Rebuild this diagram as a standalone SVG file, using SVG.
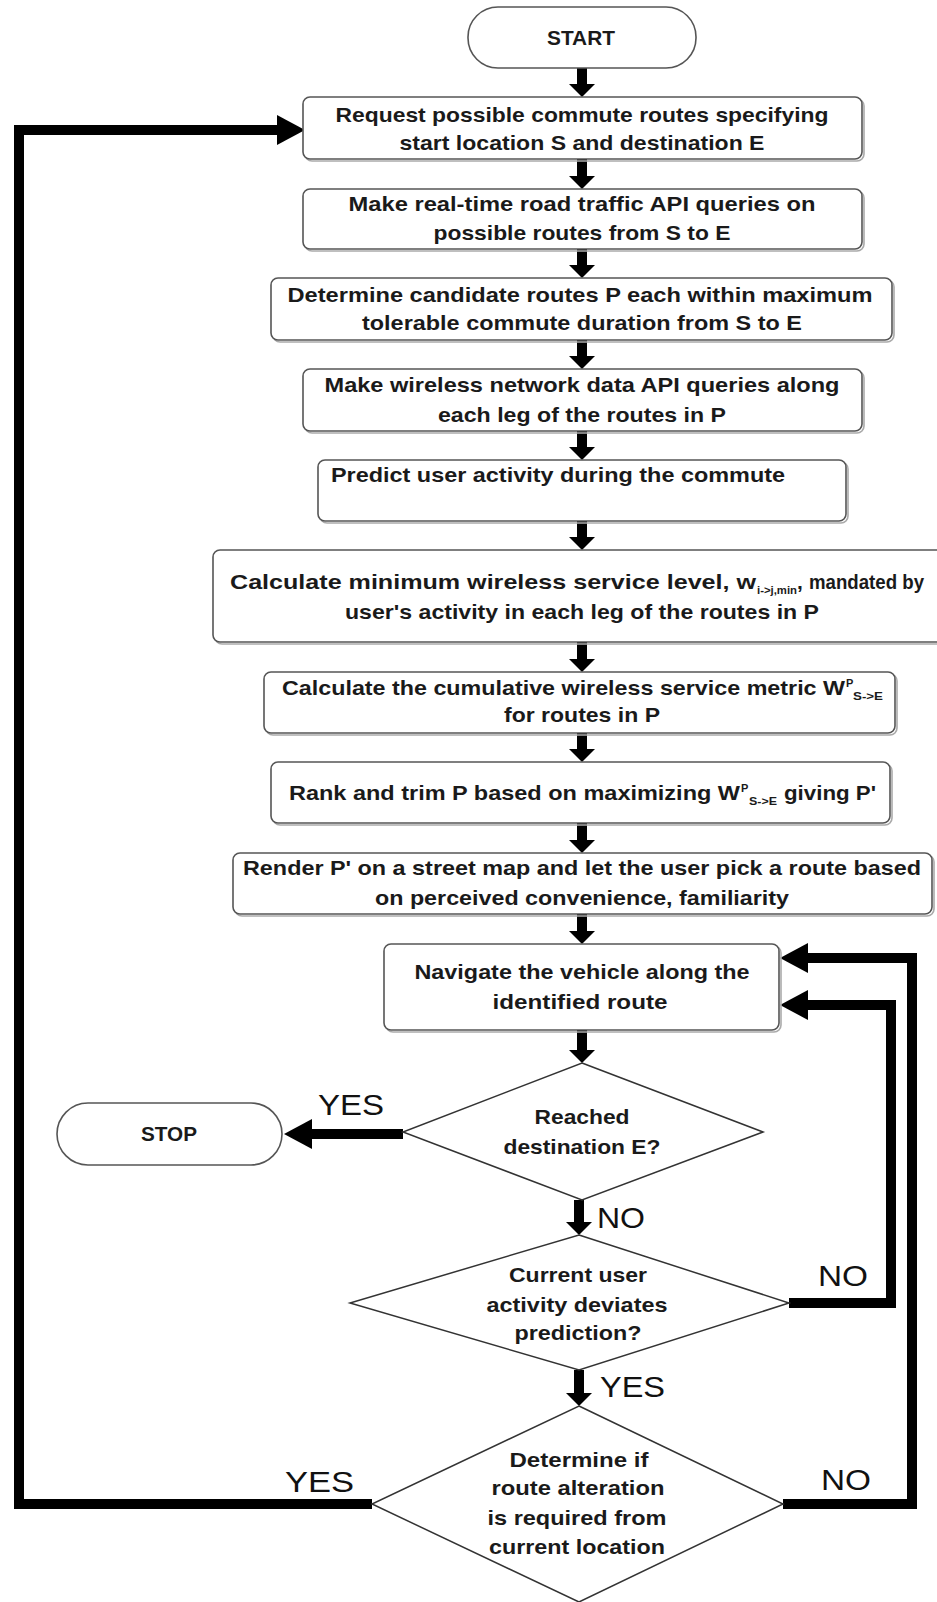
<svg xmlns="http://www.w3.org/2000/svg" width="937" height="1602" viewBox="0 0 937 1602">
<style>
.bx{fill:#fff;stroke:#555;stroke-width:1.6}
.sh{fill:none;stroke:#aaa;stroke-width:1.6}
.dm{fill:#fff;stroke:#333;stroke-width:1.5}
.t{font-family:"Liberation Sans",Arial,sans-serif;font-weight:bold;font-size:21px;fill:#1a1a1a}
.c{text-anchor:middle}
.s{font-size:11px}
.lb{font-family:"Liberation Sans",Arial,sans-serif;font-size:30px;fill:#111}
.ar{fill:none;stroke:#000;stroke-width:10}
.lp{fill:none;stroke:#000;stroke-width:10;stroke-linejoin:miter}
</style>
<defs>
<marker id="ah" markerUnits="userSpaceOnUse" markerWidth="14" markerHeight="26" refX="0" refY="13" orient="auto"><path d="M0,0 L13,13 L0,26 z" fill="#000"/></marker>
<marker id="ahL" markerUnits="userSpaceOnUse" markerWidth="29" markerHeight="30" refX="0" refY="15" orient="auto"><path d="M0,0 L28,15 L0,30 z" fill="#000"/></marker>
</defs>

<g id="connectors">
<line class="ar" x1="582" y1="68" x2="582" y2="84" marker-end="url(#ah)"/>
<line class="ar" x1="582" y1="159" x2="582" y2="176" marker-end="url(#ah)"/>
<line class="ar" x1="582" y1="249" x2="582" y2="265" marker-end="url(#ah)"/>
<line class="ar" x1="582" y1="340" x2="582" y2="356" marker-end="url(#ah)"/>
<line class="ar" x1="582" y1="431" x2="582" y2="447" marker-end="url(#ah)"/>
<line class="ar" x1="582" y1="521" x2="582" y2="537" marker-end="url(#ah)"/>
<line class="ar" x1="582" y1="642" x2="582" y2="659" marker-end="url(#ah)"/>
<line class="ar" x1="582" y1="733" x2="582" y2="749" marker-end="url(#ah)"/>
<line class="ar" x1="582" y1="823" x2="582" y2="840" marker-end="url(#ah)"/>
<line class="ar" x1="582" y1="914" x2="582" y2="931" marker-end="url(#ah)"/>
<line class="ar" x1="582" y1="1030" x2="582" y2="1050" marker-end="url(#ah)"/>
<line class="ar" x1="579" y1="1200" x2="579" y2="1222" marker-end="url(#ah)"/>
<line class="ar" x1="579" y1="1370" x2="579" y2="1393" marker-end="url(#ah)"/>
<path class="lp" d="M403,1134 L312,1134" marker-end="url(#ahL)"/>
<path class="lp" d="M372,1504 L19,1504 L19,130 L277,130" marker-end="url(#ahL)"/>
<path class="lp" d="M789,1303 L891,1303 L891,1005 L808,1005" marker-end="url(#ahL)"/>
<path class="lp" d="M783,1504 L912,1504 L912,958 L808,958" marker-end="url(#ahL)"/>
</g>

<g id="labels">
<text class="lb" x="318" y="1115" textLength="66" lengthAdjust="spacingAndGlyphs">YES</text>
<text class="lb" x="597" y="1228" textLength="48" lengthAdjust="spacingAndGlyphs">NO</text>
<text class="lb" x="818" y="1286" textLength="50" lengthAdjust="spacingAndGlyphs">NO</text>
<text class="lb" x="600" y="1397" textLength="65" lengthAdjust="spacingAndGlyphs">YES</text>
<text class="lb" x="285" y="1492" textLength="69" lengthAdjust="spacingAndGlyphs">YES</text>
<text class="lb" x="821" y="1490" textLength="50" lengthAdjust="spacingAndGlyphs">NO</text>
</g>

<g id="start">
<rect class="bx" x="468" y="7" width="228" height="61" rx="30"/>
<text class="t c" x="581" y="45" textLength="68" lengthAdjust="spacingAndGlyphs">START</text>
</g>

<g id="box1">
<rect class="sh" x="305" y="99" width="559" height="62" rx="7"/>
<rect class="bx" x="303" y="97" width="559" height="62" rx="7"/>
<text class="t c" x="582" y="122" textLength="493" lengthAdjust="spacingAndGlyphs">Request possible commute routes specifying</text>
<text class="t c" x="582" y="150" textLength="365" lengthAdjust="spacingAndGlyphs">start location S and destination E</text>
</g>

<g id="box2">
<rect class="sh" x="305" y="191" width="559" height="60" rx="7"/>
<rect class="bx" x="303" y="189" width="559" height="60" rx="7"/>
<text class="t c" x="582" y="211" textLength="467" lengthAdjust="spacingAndGlyphs">Make real-time road traffic API queries on</text>
<text class="t c" x="582" y="240" textLength="297" lengthAdjust="spacingAndGlyphs">possible routes from S to E</text>
</g>

<g id="box3">
<rect class="sh" x="273" y="280" width="621" height="62" rx="7"/>
<rect class="bx" x="271" y="278" width="621" height="62" rx="7"/>
<text class="t c" x="580" y="302" textLength="585" lengthAdjust="spacingAndGlyphs">Determine candidate routes P each within maximum</text>
<text class="t c" x="582" y="330" textLength="440" lengthAdjust="spacingAndGlyphs">tolerable commute duration from S to E</text>
</g>

<g id="box4">
<rect class="sh" x="305" y="371" width="559" height="62" rx="7"/>
<rect class="bx" x="303" y="369" width="559" height="62" rx="7"/>
<text class="t c" x="582" y="392" textLength="515" lengthAdjust="spacingAndGlyphs">Make wireless network data API queries along</text>
<text class="t c" x="582" y="422" textLength="288" lengthAdjust="spacingAndGlyphs">each leg of the routes in P</text>
</g>

<g id="box5">
<rect class="sh" x="320" y="462" width="528" height="61" rx="7"/>
<rect class="bx" x="318" y="460" width="528" height="61" rx="7"/>
<text class="t" x="331" y="482" textLength="454" lengthAdjust="spacingAndGlyphs">Predict user activity during the commute</text>
</g>

<g id="box6">
<rect class="sh" x="215" y="552" width="740" height="92" rx="7"/>
<rect class="bx" x="213" y="550" width="740" height="92" rx="7"/>
<text class="t"><tspan x="230" y="589" textLength="526" lengthAdjust="spacingAndGlyphs">Calculate minimum wireless service level, w</tspan><tspan class="s" x="757" y="594" textLength="40" lengthAdjust="spacingAndGlyphs">i-&gt;j,min</tspan><tspan x="797" y="589">,</tspan><tspan x="809" y="589" textLength="115" lengthAdjust="spacingAndGlyphs">mandated by</tspan></text>
<text class="t c" x="582" y="619" textLength="474" lengthAdjust="spacingAndGlyphs">user's activity in each leg of the routes in P</text>
</g>

<g id="box7">
<rect class="sh" x="266" y="674" width="631" height="61" rx="7"/>
<rect class="bx" x="264" y="672" width="631" height="61" rx="7"/>
<text class="t"><tspan x="282" y="695" textLength="563" lengthAdjust="spacingAndGlyphs">Calculate the cumulative wireless service metric W</tspan><tspan class="s" x="846" y="687">P</tspan><tspan class="s" x="853" y="700" textLength="30" lengthAdjust="spacingAndGlyphs">S-&gt;E</tspan></text>
<text class="t c" x="582" y="722" textLength="156" lengthAdjust="spacingAndGlyphs">for routes in P</text>
</g>

<g id="box8">
<rect class="sh" x="273" y="764" width="619" height="61" rx="7"/>
<rect class="bx" x="271" y="762" width="619" height="61" rx="7"/>
<text class="t"><tspan x="289" y="800" textLength="451" lengthAdjust="spacingAndGlyphs">Rank and trim P based on maximizing W</tspan><tspan class="s" x="741" y="792">P</tspan><tspan class="s" x="749" y="805" textLength="28" lengthAdjust="spacingAndGlyphs">S-&gt;E</tspan><tspan x="784" y="800" textLength="92" lengthAdjust="spacingAndGlyphs">giving P'</tspan></text>
</g>

<g id="box9">
<rect class="sh" x="235" y="855" width="699" height="61" rx="7"/>
<rect class="bx" x="233" y="853" width="699" height="61" rx="7"/>
<text class="t c" x="582" y="875" textLength="678" lengthAdjust="spacingAndGlyphs">Render P' on a street map and let the user pick a route based</text>
<text class="t c" x="582" y="905" textLength="414" lengthAdjust="spacingAndGlyphs">on perceived convenience, familiarity</text>
</g>

<g id="box10">
<rect class="sh" x="386" y="946" width="395" height="86" rx="7"/>
<rect class="bx" x="384" y="944" width="395" height="86" rx="7"/>
<text class="t c" x="582" y="979" textLength="335" lengthAdjust="spacingAndGlyphs">Navigate the vehicle along the</text>
<text class="t c" x="580" y="1009" textLength="175" lengthAdjust="spacingAndGlyphs">identified route</text>
</g>

<g id="decision1">
<polygon class="dm" points="582,1063 763,1132 582,1200 403,1132"/>
<text class="t c" x="582" y="1124" textLength="95" lengthAdjust="spacingAndGlyphs">Reached</text>
<text class="t c" x="582" y="1154" textLength="157" lengthAdjust="spacingAndGlyphs">destination E?</text>
</g>

<g id="stop">
<rect class="bx" x="57" y="1103" width="225" height="62" rx="31"/>
<text class="t c" x="169" y="1141" textLength="56" lengthAdjust="spacingAndGlyphs">STOP</text>
</g>

<g id="decision2">
<polygon class="dm" points="579,1235 789,1303 579,1370 350,1303"/>
<text class="t c" x="578" y="1282" textLength="138" lengthAdjust="spacingAndGlyphs">Current user</text>
<text class="t c" x="577" y="1312" textLength="181" lengthAdjust="spacingAndGlyphs">activity deviates</text>
<text class="t c" x="578" y="1340" textLength="127" lengthAdjust="spacingAndGlyphs">prediction?</text>
</g>

<g id="decision3">
<polygon class="dm" points="579,1406 783,1504 579,1602 372,1504"/>
<text class="t c" x="579" y="1467" textLength="139" lengthAdjust="spacingAndGlyphs">Determine if</text>
<text class="t c" x="578" y="1495" textLength="173" lengthAdjust="spacingAndGlyphs">route alteration</text>
<text class="t c" x="577" y="1525" textLength="179" lengthAdjust="spacingAndGlyphs">is required from</text>
<text class="t c" x="577" y="1554" textLength="176" lengthAdjust="spacingAndGlyphs">current location</text>
</g>
</svg>
